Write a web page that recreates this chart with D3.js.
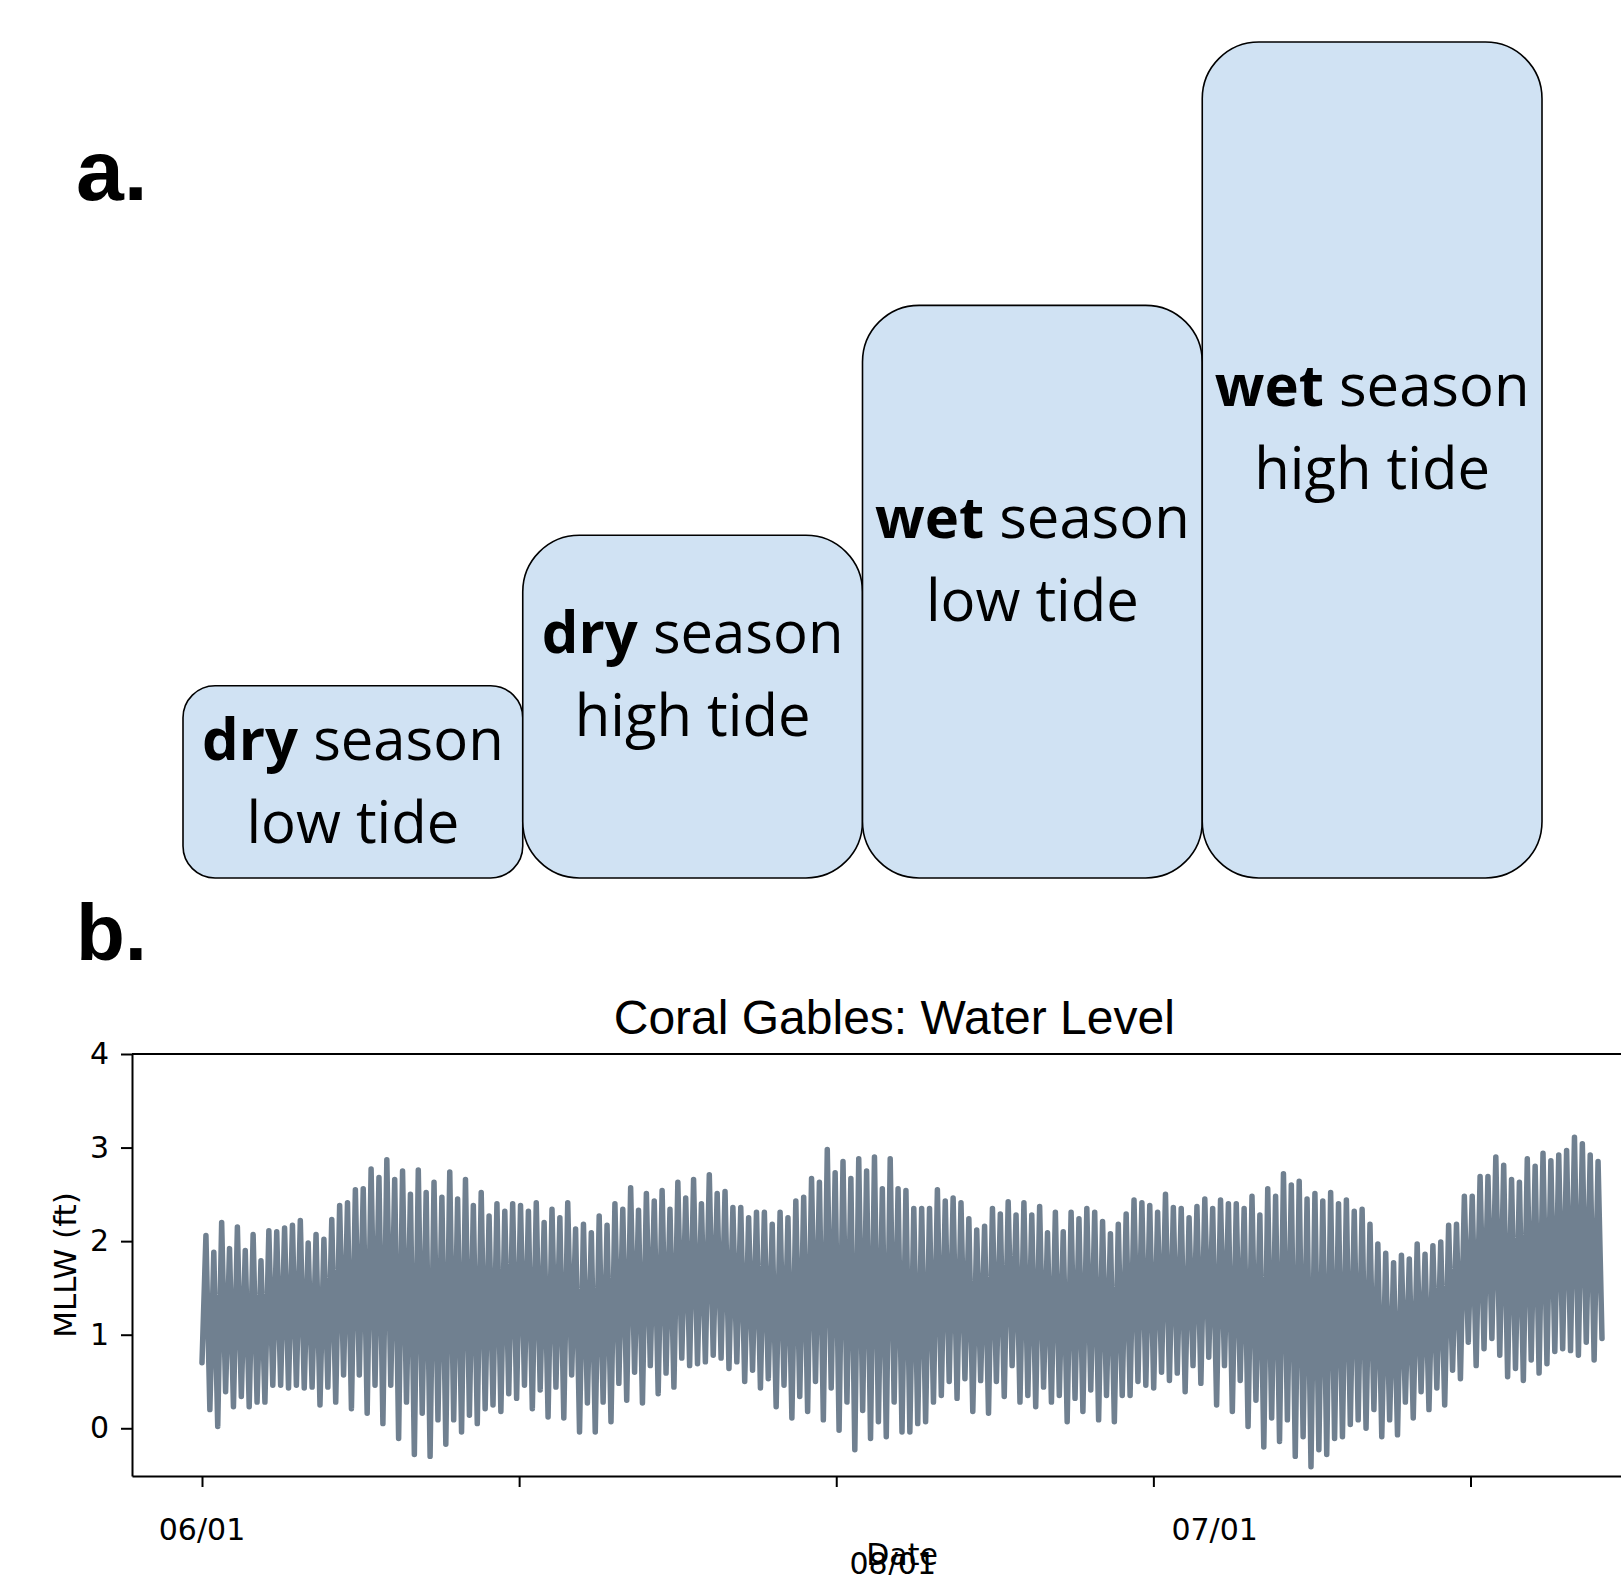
<!DOCTYPE html>
<html>
<head>
<meta charset="utf-8">
<script src="https://cdn.jsdelivr.net/npm/d3@7"></script>
<style>
  body { margin: 0; background: #fff; }
  svg { display: block; }
</style>
</head>
<body>
<svg id="fig" width="1621" height="1575"></svg>
<script>
/* ---------------- DATA: panel a ---------------- */
const scenarios = ["dry-low", "dry-high", "wet-low", "wet-high"];
const seasonWords = ["dry", "dry", "wet", "wet"];
const tideWords = ["low tide", "high tide", "low tide", "high tide"];
const relativeLevel = [23, 41, 68.5, 100];

/* ---------------- DATA: panel b (tide extremes) ---------------- */
const tideStart = "2021-06-01T00:00:00";
const tideStepHours = 12.5;
const startLevel = 0.7;

const highWater = [
  2.06, 1.88, 2.20, 1.92, 2.15, 1.90, 2.07, 1.79, 2.11, 2.10,
  2.14, 2.17, 2.22, 1.98, 2.07, 2.02, 2.23, 2.38, 2.41, 2.55,
  2.56, 2.77, 2.68, 2.87, 2.66, 2.75, 2.50, 2.76, 2.52, 2.63,
  2.47, 2.74, 2.45, 2.66, 2.38, 2.52, 2.27, 2.40, 2.32, 2.40,
  2.38, 2.32, 2.41, 2.20,
  2.34, 2.25, 2.41, 2.13, 2.18, 2.09, 2.27, 2.17, 2.40, 2.34,
  2.57, 2.33, 2.51, 2.43, 2.54, 2.34, 2.63, 2.46, 2.66, 2.40,
  2.71, 2.51, 2.53, 2.36, 2.36, 2.25, 2.31, 2.31, 2.18, 2.31,
  2.25, 2.43, 2.47, 2.67, 2.63, 2.98, 2.73, 2.85, 2.67, 2.88,
  2.75, 2.90, 2.56, 2.88, 2.56,
  2.54, 2.35, 2.35, 2.35, 2.55, 2.43, 2.46, 2.41, 2.24, 2.12,
  2.16, 2.35, 2.29, 2.42, 2.28, 2.41, 2.28, 2.37, 2.09, 2.31,
  2.10, 2.31, 2.24, 2.35, 2.31, 2.21, 2.08, 2.18, 2.29, 2.44,
  2.41, 2.38, 2.31, 2.50, 2.36, 2.35, 2.25, 2.37, 2.45, 2.35,
  2.44, 2.40, 2.40, 2.35, 2.48, 2.28,
  2.56, 2.48, 2.72, 2.60, 2.64, 2.45, 2.51, 2.43, 2.52, 2.40,
  2.44, 2.32, 2.34, 2.18, 1.97, 1.87, 1.77, 1.85, 1.81, 1.97,
  1.86, 1.95, 1.99, 2.17, 2.18, 2.48, 2.48, 2.69, 2.69, 2.90,
  2.81, 2.66, 2.63, 2.88, 2.80, 2.94, 2.86, 2.92, 2.97, 3.11,
  3.04, 2.92, 2.85
];

const lowWater = [
  0.20, 0.02, 0.39, 0.23, 0.34, 0.23, 0.28, 0.28, 0.46, 0.46,
  0.43, 0.46, 0.43, 0.44, 0.25, 0.44, 0.28, 0.57, 0.21, 0.57,
  0.16, 0.46, 0.05, 0.46, -0.11, 0.28, -0.28, 0.16, -0.30, 0.09,
  -0.17, 0.09, -0.04, 0.14, 0.05, 0.21, 0.25, 0.18, 0.37, 0.32,
  0.46, 0.21, 0.41,
  0.12, 0.44, 0.11, 0.57, -0.04, 0.27, -0.04, 0.28, 0.07, 0.48,
  0.30, 0.60, 0.27, 0.67, 0.37, 0.59, 0.44, 0.75, 0.67, 0.69,
  0.71, 0.78, 0.75, 0.64, 0.71, 0.50, 0.62, 0.43, 0.53, 0.23,
  0.46, 0.11, 0.34, 0.18, 0.50, 0.09, 0.43, -0.02, 0.28, -0.23,
  0.19, -0.11, 0.07, -0.09, 0.28, -0.04,
  -0.04, 0.05, 0.07, 0.28, 0.35, 0.50, 0.32, 0.53, 0.18, 0.51,
  0.16, 0.50, 0.34, 0.67, 0.28, 0.35, 0.23, 0.44, 0.28, 0.35,
  0.07, 0.32, 0.18, 0.41, 0.09, 0.35, 0.07, 0.35, 0.35, 0.50,
  0.46, 0.43, 0.60, 0.51, 0.59, 0.39, 0.67, 0.48, 0.76, 0.25,
  0.67, 0.18, 0.51, 0.02, 0.30, -0.20,
  0.11, -0.14, 0.09, -0.30, -0.09, -0.41, -0.23, -0.28, -0.11, -0.09,
  0.04, 0.09, 0.00, 0.20, -0.09, 0.09, -0.07, 0.28, 0.11, 0.39,
  0.20, 0.43, 0.25, 0.62, 0.53, 0.92, 0.67, 0.85, 0.96, 0.78,
  0.55, 0.64, 0.51, 0.73, 0.59, 0.69, 0.82, 0.85, 0.83, 0.78,
  0.92, 0.73, 0.96
];

const xTickDates = ["2021-06-01", "2021-06-22", "2021-07-13", "2021-08-03", "2021-08-24"];
const xTickLabels = ["06/01", "07/01", "08/01"];
const yTicks = [0, 1, 2, 3, 4];
const yDomain = [-0.51, 4];

/* ---------------- SVG SETUP ---------------- */
const svg = d3.select("#fig");
const SANS = "'Liberation Sans', Arial, sans-serif";
const DEJAVU = "'DejaVu Sans', sans-serif";
const BOXFONT = "'Open Sans', 'Noto Sans', sans-serif";

/* ---------------- PANEL LETTERS ---------------- */
svg.append("text").attr("x", 76).attr("y", 200)
  .attr("font-family", SANS).attr("font-weight", "bold").attr("font-size", 86)
  .text("a.");
svg.append("text").attr("x", 76).attr("y", 960)
  .attr("font-family", SANS).attr("font-weight", "bold").attr("font-size", 80)
  .text("b.");

/* ---------------- PANEL A: STEP BOXES ---------------- */
const baseA = 878;
const xa = d3.scaleBand().domain(scenarios).range([183, 1542]);
const ha = d3.scaleLinear().domain([0, 100]).range([0, 836]);

const boxes = scenarios.map((s, i) => ({
  id: s, season: seasonWords[i], tide: tideWords[i], level: relativeLevel[i], i
}));

const boxG = svg.append("g").selectAll("g")
  .data(boxes)
  .enter()
  .append("g");

boxG.append("rect")
  .attr("x", d => xa(d.id))
  .attr("y", d => baseA - ha(d.level))
  .attr("width", xa.bandwidth())
  .attr("height", d => ha(d.level))
  .attr("rx", d => Math.min(xa.bandwidth(), ha(d.level)) / 6)
  .attr("fill", "#d0e2f3")
  .attr("stroke", "#000")
  .attr("stroke-width", 1.6);

const boxText = boxG.append("text")
  .attr("font-family", BOXFONT)
  .attr("font-size", 58)
  .attr("text-anchor", "middle")
  .attr("fill", "#000");

// the taller boxes carry their text a little above centre
const centreY = d => baseA - ha(d.level) / 2 + (d.i === 0 ? 0 : -32);

const line1 = boxText.append("tspan")
  .attr("x", d => xa(d.id) + xa.bandwidth() / 2)
  .attr("y", d => centreY(d) - 22);
line1.append("tspan").attr("font-weight", "bold").text(d => d.season);
line1.append("tspan").text(" season");

boxText.append("tspan")
  .attr("x", d => xa(d.id) + xa.bandwidth() / 2)
  .attr("y", d => centreY(d) + 61)
  .text(d => d.tide);

/* ---------------- PANEL B: WATER LEVEL ---------------- */
const plot = { left: 132, right: 1672, top: 1054, bottom: 1476 };

const t0 = new Date(tideStart);
const hour = 3600 * 1000;
const series = [{ date: t0, v: startLevel }];
highWater.forEach((h, i) => {
  series.push({ date: new Date(+t0 + (2 * i + 1) * tideStepHours / 2 * hour), v: h });
  series.push({ date: new Date(+t0 + (2 * i + 2) * tideStepHours / 2 * hour), v: lowWater[i] });
});

const [tMin, tMax] = d3.extent(series, d => d.date);
const pad = (tMax - tMin) * 0.05;
const x = d3.scaleTime()
  .domain([new Date(+tMin - pad), new Date(+tMax + pad)])
  .range([plot.left, plot.right]);
const y = d3.scaleLinear().domain(yDomain).range([plot.bottom, plot.top]);

const parseDay = d3.timeParse("%Y-%m-%d");
const plotW = plot.right - plot.left;

/* title */
svg.append("text")
  .attr("x", plot.left + plotW * 0.495)
  .attr("y", 1034)
  .attr("text-anchor", "middle")
  .attr("font-family", SANS)
  .attr("font-size", 48)
  .text("Coral Gables: Water Level");

/* data */
svg.append("path")
  .datum(series)
  .attr("d", d3.line().x(d => x(d.date)).y(d => y(d.v)))
  .attr("fill", "none")
  .attr("stroke", "#708090")
  .attr("stroke-width", 5.5)
  .attr("stroke-linejoin", "round")
  .attr("stroke-linecap", "round");

/* axes */
const xAxis = svg.append("g")
  .attr("transform", `translate(0,${plot.bottom})`)
  .call(d3.axisBottom(x)
    .tickValues(xTickDates.map(parseDay))
    .tickFormat("")
    .tickSize(11)
    .tickSizeOuter(0));

const yAxis = svg.append("g")
  .attr("transform", `translate(${plot.left},0)`)
  .call(d3.axisLeft(y)
    .tickValues(yTicks)
    .tickFormat(d3.format("d"))
    .tickSize(11)
    .tickPadding(12)
    .tickSizeOuter(0));

[xAxis, yAxis].forEach(g => {
  g.select(".domain").attr("stroke", "#000").attr("stroke-width", 2);
  g.selectAll(".tick line").attr("stroke", "#000").attr("stroke-width", 2);
});
yAxis.selectAll(".tick text")
  .attr("font-family", DEJAVU)
  .attr("font-size", 30)
  .attr("fill", "#000");

/* top spine */
svg.append("line")
  .attr("x1", plot.left).attr("x2", plot.right)
  .attr("y1", plot.top).attr("y2", plot.top)
  .attr("stroke", "#000").attr("stroke-width", 2);

/* date labels, as they sit in the original figure */
const dateLabelPos = [
  { x: x(parseDay(xTickDates[0])), y: 1540 },
  { x: plot.left + plotW * 0.703, y: 1540 },
  { x: plot.left + plotW * 0.494, y: 1574 }
];
svg.append("g").selectAll("text")
  .data(xTickLabels)
  .enter()
  .append("text")
  .attr("x", (d, i) => dateLabelPos[i].x)
  .attr("y", (d, i) => dateLabelPos[i].y)
  .attr("text-anchor", "middle")
  .attr("font-family", DEJAVU)
  .attr("font-size", 30)
  .text(d => d);

svg.append("text")
  .attr("x", plot.left + plotW / 2)
  .attr("y", 1565)
  .attr("text-anchor", "middle")
  .attr("font-family", DEJAVU)
  .attr("font-size", 30)
  .text("Date");

svg.append("text")
  .attr("transform", `translate(76,${(plot.top + plot.bottom) / 2}) rotate(-90)`)
  .attr("text-anchor", "middle")
  .attr("font-family", DEJAVU)
  .attr("font-size", 31)
  .text("MLLW (ft)");
</script>
</body>
</html>
